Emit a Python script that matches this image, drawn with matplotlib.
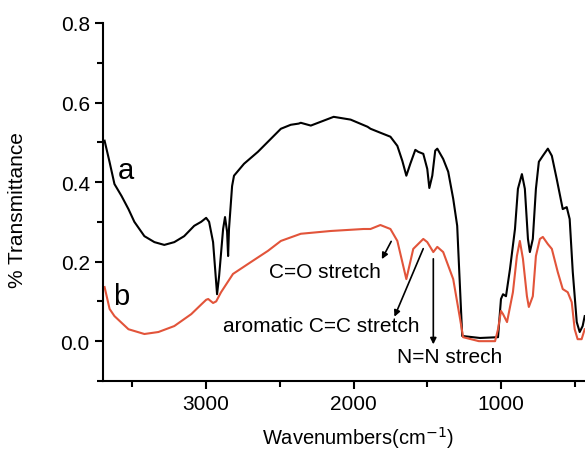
import numpy as np
import matplotlib
matplotlib.use("Agg")
import matplotlib.pyplot as plt
from matplotlib.ticker import MultipleLocator

plt.rcParams["font.family"] = ["Liberation Sans", "DejaVu Sans"]

# spectrum a (black)
wn_a = [3689, 3655, 3622, 3574, 3527, 3487, 3419, 3351, 3284, 3216, 3149, 3081, 3034,
        3000, 2980, 2953, 2926, 2912, 2885, 2872, 2858, 2851, 2845, 2824, 2811, 2743,
        2649, 2493, 2426, 2372, 2358, 2290, 2135, 2020, 1905, 1885, 1818, 1750, 1703,
        1669, 1642, 1615, 1581, 1561, 1527, 1500, 1486, 1466, 1446, 1432, 1412, 1392,
        1358, 1324, 1297, 1290, 1263, 1142, 1020, 1000, 986, 966, 939, 905, 885, 858,
        838, 817, 804, 784, 763, 743, 716, 682, 655, 622, 581, 554, 534, 513, 486, 466,
        446, 432]
tr_a = [0.504, 0.45, 0.395, 0.365, 0.332, 0.30, 0.264, 0.249, 0.242, 0.249, 0.264, 0.29, 0.30,
        0.31, 0.30, 0.249, 0.118, 0.164, 0.282, 0.312, 0.275, 0.214, 0.282, 0.39, 0.416, 0.446,
        0.476, 0.534, 0.544, 0.547, 0.549, 0.542, 0.564, 0.557, 0.539, 0.534, 0.524, 0.514, 0.491,
        0.453, 0.416, 0.446, 0.481, 0.476, 0.471, 0.433, 0.385, 0.416, 0.479, 0.484, 0.471, 0.458,
        0.426, 0.358, 0.29, 0.232, 0.013, 0.008, 0.01, 0.106, 0.118, 0.113, 0.181, 0.282, 0.383, 0.42,
        0.383, 0.257, 0.224, 0.257, 0.383, 0.451, 0.466, 0.484, 0.466, 0.408, 0.332, 0.337, 0.307,
        0.174, 0.048, 0.023, 0.038, 0.063]

# spectrum b (red)
wn_b = [3689, 3655, 3622, 3527, 3419, 3324, 3216, 3101, 3034, 3000, 2986, 2953, 2932,
        2899, 2818, 2696, 2581, 2493, 2358, 2155, 1932, 1885, 1818, 1750, 1703, 1642,
        1595, 1527, 1500, 1459, 1432, 1392, 1324, 1277, 1257, 1150, 1040, 1020, 1000,
        986, 959, 919, 892, 872, 851, 824, 811, 784, 763, 736, 716, 682, 655, 615, 581,
        547, 520, 500, 480, 453, 432]
tr_b = [0.136, 0.081, 0.063, 0.03, 0.018, 0.023, 0.038, 0.068, 0.092, 0.104, 0.106, 0.096, 0.10,
        0.123, 0.169, 0.199, 0.227, 0.252, 0.27, 0.277, 0.282, 0.282, 0.292, 0.282, 0.252, 0.156,
        0.232, 0.257, 0.249, 0.224, 0.237, 0.224, 0.156, 0.055, 0.01, 0.0, 0.0, 0.03, 0.076,
        0.068, 0.048, 0.123, 0.214, 0.252, 0.207, 0.113, 0.086, 0.113, 0.214, 0.257, 0.262, 0.244,
        0.232, 0.174, 0.131, 0.123, 0.098, 0.03, 0.005, 0.005, 0.03]

fig = plt.figure(figsize=(5.85, 4.52), dpi=100)
ax = fig.add_axes([0.176, 0.155, 0.824, 0.792])
ax.plot(wn_a, tr_a, color="black", lw=1.5)
ax.plot(wn_b, tr_b, color="#e2543a", lw=1.5)

ax.set_xlim(3700, 430)
ax.set_ylim(-0.1, 0.8)
ax.xaxis.set_major_locator(MultipleLocator(1000))
ax.xaxis.set_minor_locator(MultipleLocator(500))
ax.yaxis.set_major_locator(MultipleLocator(0.2))
ax.yaxis.set_minor_locator(MultipleLocator(0.1))
ax.tick_params(which="major", direction="out", length=6, width=1.5, labelsize=15)
ax.tick_params(which="minor", direction="out", length=4, width=1.5)
for s in ["top", "right"]:
    ax.spines[s].set_visible(False)
for s in ["left", "bottom"]:
    ax.spines[s].set_linewidth(1.5)

ax.set_xlabel("Wavenumbers(cm$^{-1}$)", fontsize=14.5, labelpad=8, x=0.53)
ax.set_ylabel("% Transmittance", fontsize=15, labelpad=24, y=0.48)

ax.text(3544, 0.43, "a", fontsize=21, ha="center", va="center")
ax.text(3574, 0.113, "b", fontsize=21, ha="center", va="center")

arrow = dict(arrowstyle="-|>", color="black", lw=1.2, mutation_scale=9)
ax.annotate("", xy=(1817, 0.20), xytext=(1736, 0.257), arrowprops=arrow)
ax.text(2196, 0.174, "C=O stretch", fontsize=15, ha="center", va="center")
ax.annotate("", xy=(1730, 0.055), xytext=(1520, 0.239), arrowprops=arrow)
ax.text(2216, 0.04, "aromatic C=C stretch", fontsize=15, ha="center", va="center")
ax.annotate("", xy=(1459, -0.015), xytext=(1459, 0.214), arrowprops=arrow)
ax.text(1345, -0.038, "N=N strech", fontsize=15, ha="center", va="center")

fig.savefig("out.png", dpi=100)
